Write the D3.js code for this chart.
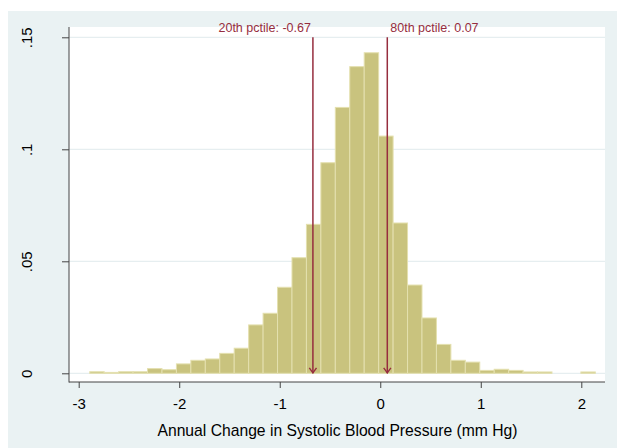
<!DOCTYPE html>
<html>
<head>
<meta charset="utf-8">
<script src="https://cdn.jsdelivr.net/npm/d3@7"></script>
<style>
  body { margin: 0; background: #fff; }
  svg { display: block; font-family: "Liberation Sans", Arial, sans-serif; }
</style>
</head>
<body>
<svg id="chart" width="617" height="448"></svg>
<script>
// histogram bins (fraction of sample per bin)
const binStart = -2.89;
const binWidth = 0.1437;
const fractions = [
    .0007, .0004, .0007, .0007, .0021, .0016, .0042, .0058, .0064, .0089,
    .0112, .0216, .0268, .0384, .0516, .0665, .0940, .1187, .1369, .1431,
    .1059, .0671, .0394, .0247, .0129, .0058, .0050, .0013, .0018, .0013,
    .0006, .0006, 0, 0, .0006
];
const xTicks = [-3, -2, -1, 0, 1, 2];
const yTicks = [0, .05, .1, .15];
const yTickLabels = ["0", ".05", ".1", ".15"];
const pctileValues = [-0.67, 0.07];
const pctileLabels = ["20th pctile: -0.67", "80th pctile: 0.07"];
const xTitle = "Annual Change in Systolic Blood Pressure (mm Hg)";

const svg = d3.select("#chart");
const red = "#962d3e";

// outer graph region
svg.append("rect").attr("x", 8).attr("y", 11).attr("width", 609).attr("height", 437)
    .attr("fill", "#eaf2f3");
// plot region
const plot = { left: 69, right: 605, top: 27, bottom: 382 };
svg.append("rect").attr("x", plot.left).attr("y", plot.top)
    .attr("width", plot.right - plot.left).attr("height", plot.bottom - plot.top)
    .attr("fill", "#fff");

const x = d3.scaleLinear().domain([-3, 2]).range([78.7, 581.3]);
const y = d3.scaleLinear().domain([0, .15]).range([373.3, 37.3]);

// gridlines
svg.append("g").selectAll("line")
    .data(yTicks)
    .join("line")
    .attr("x1", plot.left).attr("x2", plot.right)
    .attr("y1", d => y(d)).attr("y2", d => y(d))
    .attr("stroke", "#e6eef0").attr("stroke-width", 1.2);

// bars
const bins = fractions.map((f, i) => ({ x0: binStart + i * binWidth, x1: binStart + (i + 1) * binWidth, f: f }));
svg.append("g").selectAll("rect")
    .data(bins.filter(d => d.f > 0))
    .join("rect")
    .attr("x", d => x(d.x0))
    .attr("width", d => x(d.x1) - x(d.x0))
    .attr("y", d => y(d.f))
    .attr("height", d => y(0) - y(d.f))
    .attr("fill", "#c9c37e")
    .attr("stroke", "#e4e0af")
    .attr("stroke-width", 1);

// percentile lines with arrows
const pg = svg.append("g");
pg.selectAll("line")
    .data(pctileValues)
    .join("line")
    .attr("x1", d => x(d)).attr("x2", d => x(d))
    .attr("y1", y(.15)).attr("y2", y(0))
    .attr("stroke", red).attr("stroke-width", 1.5);
pg.selectAll("path")
    .data(pctileValues)
    .join("path")
    .attr("d", d => `M${x(d) - 3.6},${y(0) - 5.5}L${x(d)},${y(0) - 0.5}L${x(d) + 3.6},${y(0) - 5.5}`)
    .attr("fill", "none").attr("stroke", red).attr("stroke-width", 1.4);
pg.selectAll("text")
    .data(pctileValues)
    .join("text")
    .attr("x", (d, i) => i === 0 ? x(d) - 2 : x(d) + 3)
    .attr("y", 32)
    .attr("text-anchor", (d, i) => i === 0 ? "end" : "start")
    .attr("fill", red)
    .attr("font-size", 12.5)
    .text((d, i) => pctileLabels[i]);

// axes
const yAxis = d3.axisLeft(y).tickValues(yTicks).tickFormat((d, i) => yTickLabels[i])
    .tickSize(7).tickSizeOuter(0);
const gy = svg.append("g").attr("transform", `translate(${plot.left},0)`).call(yAxis);
gy.select(".domain").remove();
gy.append("line").attr("x1", 0).attr("x2", 0).attr("y1", plot.top).attr("y2", plot.bottom + 0.5)
    .attr("stroke", "#444");
gy.selectAll(".tick line").attr("stroke", "#444");
gy.selectAll(".tick text")
    .attr("font-size", 15).attr("fill", "#000")
    .attr("text-anchor", "middle")
    .attr("dy", 0)
    .attr("x", 0)
    .attr("transform", `translate(${32 - plot.left},0) rotate(-90)`);

const xAxis = d3.axisBottom(x).tickValues(xTicks).tickFormat(d3.format("d"))
    .tickSize(6).tickSizeOuter(0);
const gx = svg.append("g").attr("transform", `translate(0,${plot.bottom})`).call(xAxis);
gx.select(".domain").remove();
gx.append("line").attr("x1", plot.left).attr("x2", plot.right).attr("y1", 0).attr("y2", 0)
    .attr("stroke", "#444");
gx.selectAll(".tick line").attr("stroke", "#444");
gx.selectAll(".tick text")
    .attr("font-size", 15).attr("fill", "#000")
    .attr("y", 27).attr("dy", 0)
    .text(d => d < 0 ? "-" + Math.abs(d) : d);

// axis title
svg.append("text")
    .attr("x", (plot.left + plot.right) / 2 + 0.5)
    .attr("y", 436)
    .attr("text-anchor", "middle")
    .attr("font-size", 15.7)
    .attr("fill", "#000")
    .text(xTitle);
</script>
</body>
</html>
